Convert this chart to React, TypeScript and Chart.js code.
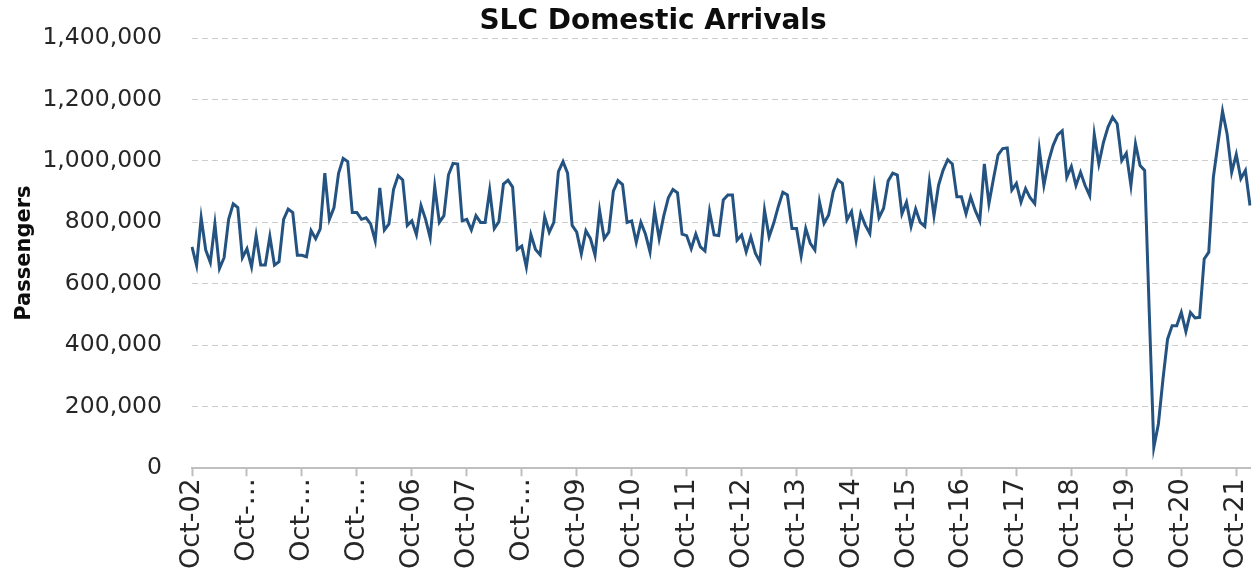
import React, { useEffect, useRef } from "react";
import { Chart, registerables } from "chart.js";

Chart.register(...registerables);

// Monthly SLC domestic arrivals, fiscal years Oct..Sep (thousands of passengers)
const fy03 = [720, 660, 815, 710, 670, 795, 650, 685, 810, 860, 848, 685];
const fy04 = [714, 655, 757, 661, 661, 754, 661, 672, 810, 843, 832, 693];
const fy05 = [693, 688, 773, 747, 779, 960, 810, 848, 960, 1008, 998, 832];
const fy06 = [832, 810, 815, 795, 740, 912, 775, 795, 907, 952, 938, 790];
const fy07 = [805, 760, 855, 810, 750, 917, 800, 822, 955, 992, 990, 805];
const fy08 = [810, 775, 822, 800, 800, 905, 780, 802, 925, 937, 915, 712];
const fy09 = [723, 655, 760, 712, 695, 818, 768, 800, 965, 998, 960, 790];
const fy10 = [768, 698, 773, 747, 693, 838, 747, 768, 902, 936, 923, 800];
const fy11 = [805, 735, 800, 762, 704, 838, 747, 821, 880, 907, 896, 762];
const fy12 = [757, 714, 762, 720, 707, 836, 759, 757, 873, 889, 889, 742];
const fy13 = [759, 704, 753, 700, 672, 840, 753, 797, 851, 898, 889, 780];
const fy14 = [780, 691, 780, 732, 710, 867, 797, 824, 900, 938, 927, 808];
const fy15 = [835, 742, 829, 791, 764, 916, 815, 846, 935, 960, 954, 828];
const fy16 = [866, 787, 844, 800, 787, 932, 822, 921, 970, 1004, 990, 883];
const fy17 = [883, 828, 883, 839, 805, 990, 861, 943, 1020, 1040, 1042, 905];
const fy18 = [927, 866, 910, 880, 861, 1037, 921, 998, 1050, 1085, 1098, 947];
const fy19 = [982, 920, 963, 920, 887, 1086, 990, 1060, 1110, 1142, 1121, 1001];
const fy20 = [1025, 920, 1056, 985, 969, 510, 68, 144, 290, 420, 464, 464];
const fy21 = [507, 445, 507, 489, 491, 681, 703, 947, 1056, 1162, 1088, 963];
const fy22 = [1021, 942, 969, 855];

const passengersK = [
  ...fy03, ...fy04, ...fy05, ...fy06, ...fy07, ...fy08, ...fy09, ...fy10,
  ...fy11, ...fy12, ...fy13, ...fy14, ...fy15, ...fy16, ...fy17, ...fy18,
  ...fy19, ...fy20, ...fy21, ...fy22,
];
const passengers = passengersK.map((v) => v * 1000);

const monthNames = ["Jan", "Feb", "Mar", "Apr", "May", "Jun", "Jul", "Aug", "Sep", "Oct", "Nov", "Dec"];
const startMonthIndex = 9; // October
const startYear = 2002;
const categories = passengers.map((_, i) => {
  const m = (startMonthIndex + i) % 12;
  const y = startYear + Math.floor((startMonthIndex + i) / 12);
  return `${monthNames[m]}-${String(y % 100).padStart(2, "0")}`;
});

// Tick labels shown every 12 months (as truncated in the original)
const tickLabels = [
  "Oct-02", "Oct-…", "Oct-…", "Oct-…", "Oct-06", "Oct-07", "Oct-…", "Oct-09", "Oct-10", "Oct-11",
  "Oct-12", "Oct-13", "Oct-14", "Oct-15", "Oct-16", "Oct-17", "Oct-18", "Oct-19", "Oct-20", "Oct-21",
];

const yTicks = [0, 200000, 400000, 600000, 800000, 1000000, 1200000, 1400000];

const titleText = "SLC Domestic Arrivals";
const yAxisTitle = "Passengers";

const FONT = '"DejaVu Sans", sans-serif';

const titlePlugin = {
  id: "customTitle",
  afterDraw(chart: any) {
    const ctx = chart.ctx;
    ctx.save();
    ctx.font = `bold 28px ${FONT}`;
    ctx.fillStyle = "#0d0d0d";
    ctx.textAlign = "center";
    ctx.textBaseline = "middle";
    ctx.fillText(titleText, 653, 22);
    ctx.restore();
  },
};

export default function App() {
  const ref = useRef<HTMLCanvasElement | null>(null);

  useEffect(() => {
    if (!ref.current) return;
    const chart = new Chart(ref.current, {
      type: "line",
      data: {
        labels: categories,
        datasets: [
          {
            label: "Domestic Arrivals",
            data: passengers,
            borderColor: "#245381",
            borderWidth: 3,
            pointRadius: 0,
            tension: 0,
            fill: false,
          },
        ],
      },
      plugins: [titlePlugin],
      options: {
        responsive: false,
        animation: false,
        devicePixelRatio: 1,
        layout: { padding: { top: 38, left: 0, right: 10, bottom: 6 } },
        plugins: {
          legend: { display: false },
          title: { display: false },
          tooltip: { enabled: false },
        },
        scales: {
          x: {
            type: "category",
            offset: false,
            afterFit: (scale: any) => {
              scale.paddingLeft = 0;
              scale.paddingRight = 0;
            },
            grid: {
              display: true,
              drawOnChartArea: false,
              drawTicks: true,
              tickLength: 8,
              tickWidth: 2,
              tickColor: (ctx: any) => (ctx.index % 12 === 0 ? "#bfbfbf" : "rgba(0,0,0,0)"),
              color: "rgba(0,0,0,0)",
            },
            border: { display: true, color: "#bfbfbf", width: 2 },
            ticks: {
              autoSkip: false,
              maxRotation: 90,
              minRotation: 90,
              padding: 2,
              color: "#262626",
              font: { family: FONT, size: 27 },
              callback: (_v: any, i: number) => (i % 12 === 0 ? tickLabels[i / 12] : ""),
            },
          },
          y: {
            min: 0,
            max: 1400000,
            afterBuildTicks: (scale: any) => {
              scale.ticks = yTicks.map((v) => ({ value: v }));
            },
            afterFit: (scale: any) => {
              scale.width = 192;
              scale.paddingTop = 0;
              scale.paddingBottom = 0;
            },
            grid: {
              color: "#cccccc",
              lineWidth: 1,
              drawTicks: false,
              borderDash: [6, 4],
            },
            border: { display: false, dash: [6, 4] },
            ticks: {
              padding: 30,
              color: "#262626",
              font: { family: FONT, size: 23.5 },
              callback: (v: any) => Number(v).toLocaleString("en-US"),
            },
            title: {
              display: true,
              text: yAxisTitle,
              color: "#0d0d0d",
              font: { family: FONT, size: 21, weight: "bold" },
              padding: { top: 12, bottom: 0 },
            },
          },
        },
      },
    });
    return () => chart.destroy();
  }, []);

  return (
    <div style={{ position: "absolute", left: 0, top: 0, width: 1260, height: 577, background: "#fff" }}>
      <canvas ref={ref} width={1260} height={577} />
    </div>
  );
}
